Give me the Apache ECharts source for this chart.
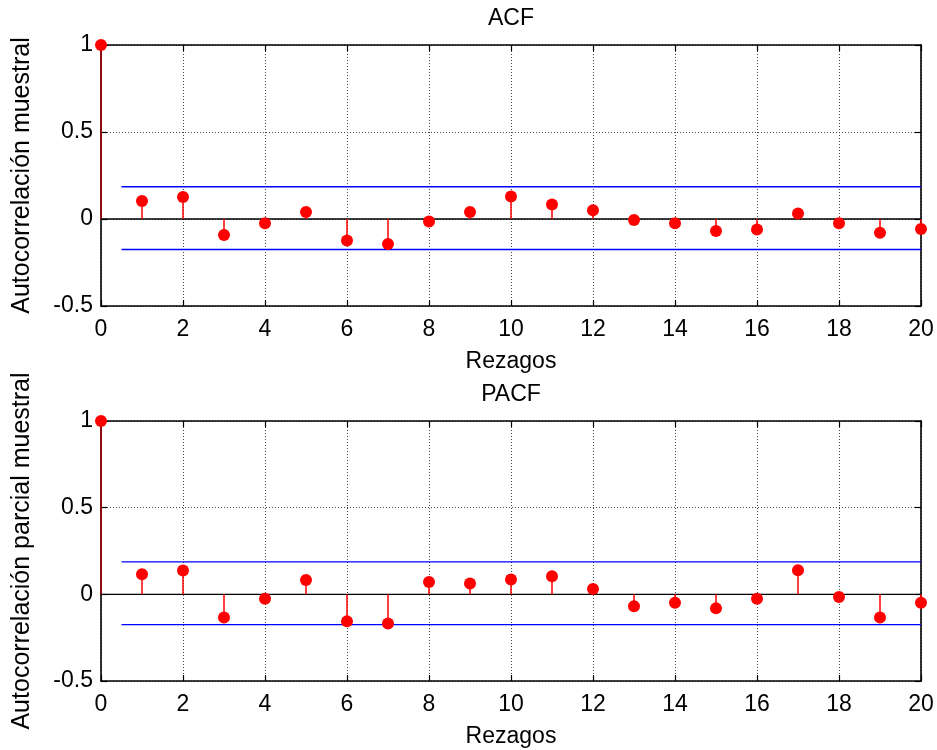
<!DOCTYPE html>
<html>
<head>
<meta charset="utf-8">
<title>ACF / PACF</title>
<script src="https://cdn.jsdelivr.net/npm/echarts@6/dist/echarts.min.js"></script>
<style>
  html, body { margin: 0; padding: 0; background: #fff; }
  #chart { width: 937px; height: 750px; }
</style>
</head>
<body>
<div id="chart"></div>
<script>
// Lags shown on the horizontal axis
const lags = [0, 1, 2, 3, 4, 5, 6, 7, 8, 9, 10, 11, 12, 13, 14, 15, 16, 17, 18, 19, 20];

// Sample autocorrelation function
const acfValues = [1, 0.104, 0.127, -0.092, -0.025, 0.040, -0.123, -0.144, -0.015, 0.040, 0.129,
                   0.084, 0.050, -0.006, -0.025, -0.069, -0.060, 0.031, -0.025, -0.079, -0.058];

// Sample partial autocorrelation function
const pacfValues = [1, 0.116, 0.137, -0.133, -0.025, 0.083, -0.156, -0.168, 0.071, 0.062, 0.085,
                    0.104, 0.031, -0.069, -0.048, -0.081, -0.025, 0.139, -0.015, -0.133, -0.048];

// Approximate confidence bounds (upper, lower) and their horizontal extent
const acfBounds = [0.185, -0.175];
const pacfBounds = [0.187, -0.175];
const boundStart = 0.5;
const boundEnd = 20;

// Axis ranges and tick spacing
const xRange = [0, 20];
const xStep = 2;
const yRange = [-0.5, 1];
const yStep = 0.5;

// Text
const titles = ['ACF', 'PACF'];
const xName = 'Rezagos';
const yNames = ['Autocorrelación muestral', 'Autocorrelación parcial muestral'];

const FONT = 'Liberation Sans, Arial, Helvetica, sans-serif';
const FS = 23;
const FS_YNAME = 25;

const grids = [
  { left: 101, right: 16, top: 45, height: 261 },
  { left: 101, right: 16, top: 421, height: 260 }
];

function pairs(xs, ys) { return xs.map((x, i) => [x, ys[i]]); }

const axisLineStyle = { color: '#000', width: 1.6 };
const gridLineStyle = { color: '#444', width: 1, type: [1, 2] };
const tickStyle = { color: '#000', width: 1.2 };

const xAxes = [];
const yAxes = [];
grids.forEach((g, gi) => {
  // bottom axis with labels and grid lines
  xAxes.push({
    type: 'value', gridIndex: gi, position: 'bottom',
    min: xRange[0], max: xRange[1], interval: xStep,
    name: xName, nameLocation: 'middle', nameGap: 44,
    nameTextStyle: { fontFamily: FONT, fontSize: FS, color: '#000' },
    axisLine: { show: true, onZero: false, lineStyle: axisLineStyle },
    axisTick: { show: true, inside: true, length: 6, lineStyle: tickStyle },
    axisLabel: { show: true, margin: 12, fontFamily: FONT, fontSize: FS, color: '#000' },
    splitLine: { show: true, lineStyle: gridLineStyle }
  });
  // top axis: box edge and ticks only
  xAxes.push({
    type: 'value', gridIndex: gi, position: 'top',
    min: xRange[0], max: xRange[1], interval: xStep,
    axisLine: { show: true, onZero: false, lineStyle: axisLineStyle },
    axisTick: { show: true, inside: true, length: 6, lineStyle: tickStyle },
    axisLabel: { show: false },
    splitLine: { show: false }
  });
  // left axis with labels and grid lines
  yAxes.push({
    type: 'value', gridIndex: gi, position: 'left',
    min: yRange[0], max: yRange[1], interval: yStep,
    name: yNames[gi], nameLocation: 'middle', nameGap: 66, nameRotate: 90,
    nameTextStyle: { fontFamily: FONT, fontSize: FS_YNAME, color: '#000' },
    axisLine: { show: true, onZero: false, lineStyle: axisLineStyle },
    axisTick: { show: true, inside: true, length: 6, lineStyle: tickStyle },
    axisLabel: { show: true, margin: 8, fontFamily: FONT, fontSize: FS, color: '#000' },
    splitLine: { show: true, lineStyle: gridLineStyle }
  });
  // right axis: box edge and ticks only
  yAxes.push({
    type: 'value', gridIndex: gi, position: 'right',
    min: yRange[0], max: yRange[1], interval: yStep,
    axisLine: { show: true, onZero: false, lineStyle: axisLineStyle },
    axisTick: { show: true, inside: true, length: 6, lineStyle: tickStyle },
    axisLabel: { show: false },
    splitLine: { show: false }
  });
});

function stemSeries(values, bounds, gi) {
  const xi = gi * 2, yi = gi * 2;
  const data = pairs(lags, values);
  return [
    // confidence bounds
    {
      type: 'line', xAxisIndex: xi, yAxisIndex: yi, symbol: 'none', silent: true, z: 3,
      data: [[boundStart, bounds[0]], [boundEnd, bounds[0]]],
      lineStyle: { color: '#0000ff', width: 1.4 }
    },
    {
      type: 'line', xAxisIndex: xi, yAxisIndex: yi, symbol: 'none', silent: true, z: 3,
      data: [[boundStart, bounds[1]], [boundEnd, bounds[1]]],
      lineStyle: { color: '#0000ff', width: 1.4 }
    },
    // stem baseline at zero
    {
      type: 'line', xAxisIndex: xi, yAxisIndex: yi, symbol: 'none', silent: true, z: 3,
      data: [[xRange[0], 0], [xRange[1], 0]],
      lineStyle: { color: '#000', width: 1.4 }
    },
    // stems
    {
      type: 'custom', xAxisIndex: xi, yAxisIndex: yi, z: 4, silent: true,
      data: data,
      encode: { x: 0, y: 1 },
      renderItem: function (params, api) {
        const lag = api.value(0);
        const base = api.coord([lag, 0]);
        const tip = api.coord([lag, api.value(1)]);
        return {
          type: 'line',
          shape: { x1: base[0], y1: base[1], x2: tip[0], y2: tip[1] },
          style: { stroke: lag === 0 ? '#b00000' : '#ff0000', lineWidth: 1.5 }
        };
      }
    },
    // stem heads
    {
      type: 'scatter', xAxisIndex: xi, yAxisIndex: yi, z: 5, silent: true,
      symbol: 'circle', symbolSize: 12, clip: false,
      itemStyle: { color: '#ff0000', opacity: 1 },
      data: data
    }
  ];
}

const chart = echarts.init(document.getElementById('chart'), null, { renderer: 'canvas' });
chart.setOption({
  backgroundColor: '#ffffff',
  animation: false,
  title: [
    { text: titles[0], left: 511, top: 7, padding: 0, textAlign: 'center',
      textStyle: { fontFamily: FONT, fontSize: FS, fontWeight: 'normal', color: '#000' } },
    { text: titles[1], left: 511, top: 383, padding: 0, textAlign: 'center',
      textStyle: { fontFamily: FONT, fontSize: FS, fontWeight: 'normal', color: '#000' } }
  ],
  grid: grids,
  xAxis: xAxes,
  yAxis: yAxes,
  series: [].concat(stemSeries(acfValues, acfBounds, 0), stemSeries(pacfValues, pacfBounds, 1))
});
</script>
</body>
</html>
